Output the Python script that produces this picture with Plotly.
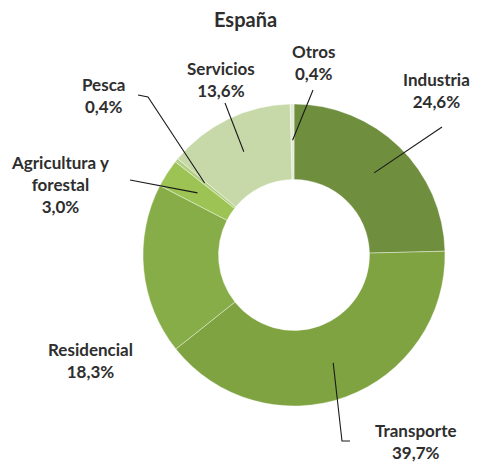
import math
import plotly.graph_objects as go

# ---- data ----
categories = ["Industria", "Transporte", "Residencial", "Agricultura y<br>forestal",
              "Pesca", "Servicios", "Otros"]
values = [24.6, 39.7, 18.3, 3.0, 0.4, 13.6, 0.4]
colors = ["#6f8e3e", "#7ea340", "#87ad48", "#9cc353", "#b4cf83", "#c7d9a8", "#e2ebd2"]

OFF = 8                              # page body margin
W, H = 481 - OFF, 464 - OFF
CX, CY, R = 294, 255, 151            # donut centre / radius in window pixels
HOLE = 0.5

def px(x):
    return (x - OFF) / W

def py(y):
    return 1 - (y - OFF) / H

# label centres (window pixels) and leader-line paths
label_pos = {
    "Industria": (436, 90),
    "Transporte": (416, 441),
    "Residencial": (90, 360),
    "Agricultura y<br>forestal": (60, 184),
    "Pesca": (104, 96),
    "Servicios": (221, 79),
    "Otros": (313, 63),
}
leader_pts = {
    "Industria": [(442, 127)],
    "Transporte": [(342, 441), (350, 441)],
    "Residencial": [],
    "Agricultura y<br>forestal": [(130, 180)],
    "Pesca": [(148, 97), (138, 95)],
    "Servicios": [(225, 103)],
    "Otros": [(313, 90)],
}

fig = go.Figure(go.Pie(
    labels=categories,
    values=values,
    hole=HOLE,
    sort=False,
    direction="clockwise",
    rotation=0,
    textinfo="none",
    marker=dict(colors=colors, line=dict(color="white", width=0.4)),
    domain=dict(x=[px(CX - R), px(CX + R)], y=[py(CY + R), py(CY - R)]),
    showlegend=False,
))

total = sum(values)
cum = 0.0
shapes = []
annotations = []
for cat, v in zip(categories, values):
    mid = (cum + v / 2) / total * 2 * math.pi
    cum += v
    rt = R * 0.76
    tx, ty = CX + rt * math.sin(mid), CY - rt * math.cos(mid)
    pts = [(tx, ty)] + leader_pts[cat]
    if len(pts) > 1:
        path = "M " + " L ".join(f"{px(a):.5f},{py(b):.5f}" for a, b in pts)
        shapes.append(dict(type="path", path=path, xref="paper", yref="paper",
                           line=dict(color="#1a1a1a", width=1.1)))
    lx, ly = label_pos[cat]
    pct = f"{v:.1f}".replace(".", ",") + "%"
    annotations.append(dict(
        x=px(lx), y=py(ly), xref="paper", yref="paper", showarrow=False,
        text=f"<b>{cat}<br>{pct}</b>", align="center",
        font=dict(family="Lato, Open Sans, sans-serif", size=17, color="#2e2e2e"),
        xanchor="center", yanchor="middle",
    ))

annotations.append(dict(
    x=px(245), y=py(19), xref="paper", yref="paper", showarrow=False,
    text="<b>España</b>", font=dict(family="Lato, Open Sans, sans-serif", size=20, color="#2e2e2e"),
    xanchor="center", yanchor="middle",
))

fig.update_layout(
    width=W, height=H,
    margin=dict(l=0, r=0, t=0, b=0),
    paper_bgcolor="white", plot_bgcolor="white",
    shapes=shapes, annotations=annotations,
)

fig.write_html("out.html")
